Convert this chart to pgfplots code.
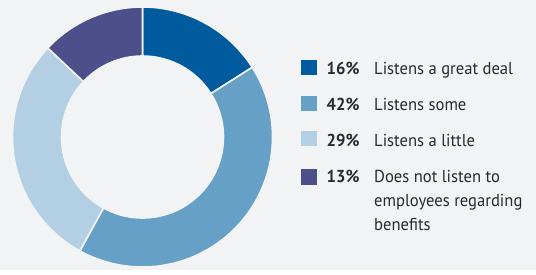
\documentclass[border=0pt]{standalone}
\usepackage{pgfplots}
\pgfplotsset{compat=1.18}
\usepackage{pgfplotstable}
\usepackage{fontspec}
\setmainfont{PT Sans}[FakeStretch=0.96]
\definecolor{bg}{HTML}{F2F3F5}
\definecolor{c1}{HTML}{005A9E}
\definecolor{c2}{HTML}{67A0C6}
\definecolor{c3}{HTML}{B3CFE3}
\definecolor{c4}{HTML}{4D4F8A}
\definecolor{txt}{HTML}{2A2A2A}
% shares of the donut (percent), clockwise from 12 o'clock
\pgfplotstableread{
share
16
42
29
13
}\donutdata
\pgfplotstablegetelem{0}{share}\of\donutdata \let\vA\pgfplotsretval
\pgfplotstablegetelem{1}{share}\of\donutdata \let\vB\pgfplotsretval
\pgfplotstablegetelem{2}{share}\of\donutdata \let\vC\pgfplotsretval
\pgfplotstablegetelem{3}{share}\of\donutdata \let\vD\pgfplotsretval
\pgfmathsetmacro\aA{90}
\pgfmathsetmacro\aB{\aA-3.6*\vA}
\pgfmathsetmacro\aC{\aB-3.6*\vB}
\pgfmathsetmacro\aD{\aC-3.6*\vC}
\pgfmathsetmacro\aE{\aD-3.6*\vD}
\newcommand\donutwedge[3]{%
  \fill[#1,draw=bg,line width=1.6pt]
    ([shift={(#2:130pt)}]axis cs:142.5,133)
    arc[start angle=#2,end angle=#3,radius=130pt]
    -- ([shift={(#3:81pt)}]axis cs:142.5,133)
    arc[start angle=#3,end angle=#2,radius=81pt] -- cycle;}
\begin{document}
\begin{tikzpicture}
\begin{axis}[
  x=1pt,y=1pt,
  xmin=0,xmax=536,ymin=0,ymax=270,
  hide axis,
  scale only axis,
  anchor=origin, at={(0,0)},
  clip=false,
]
\fill[bg] (axis cs:0,0) rectangle (axis cs:536,270);
\donutwedge{c1}{\aA}{\aB}
\donutwedge{c2}{\aB}{\aC}
\donutwedge{c3}{\aC}{\aD}
\donutwedge{c4}{\aD}{\aE}
% legend
\fill[c1] (axis cs:301,195) rectangle (axis cs:316.5,210);
\fill[c2] (axis cs:301,159) rectangle (axis cs:316.5,174);
\fill[c3] (axis cs:301,124) rectangle (axis cs:316.5,139);
\fill[c4] (axis cs:301,85) rectangle (axis cs:316.5,101);
\begin{scope}[every node/.style={anchor=base west,inner sep=0pt,text=txt,font=\fontsize{17.3}{24.5}\selectfont}]
\node at (axis cs:326.5,195) {\textbf{\vA\%}};
\node at (axis cs:326.5,159) {\textbf{\vB\%}};
\node at (axis cs:326.5,123.3) {\textbf{\vC\%}};
\node at (axis cs:326.5,88) {\textbf{\vD\%}};
\node at (axis cs:374,195) {Listens a great deal};
\node at (axis cs:374,159) {Listens some};
\node at (axis cs:374,123.3) {Listens a little};
\node at (axis cs:374,88) {Does not listen to};
\node at (axis cs:374,63.5) {employees regarding};
\node at (axis cs:374,39) {benefits};
\end{scope}
\end{axis}
\end{tikzpicture}
\end{document}
